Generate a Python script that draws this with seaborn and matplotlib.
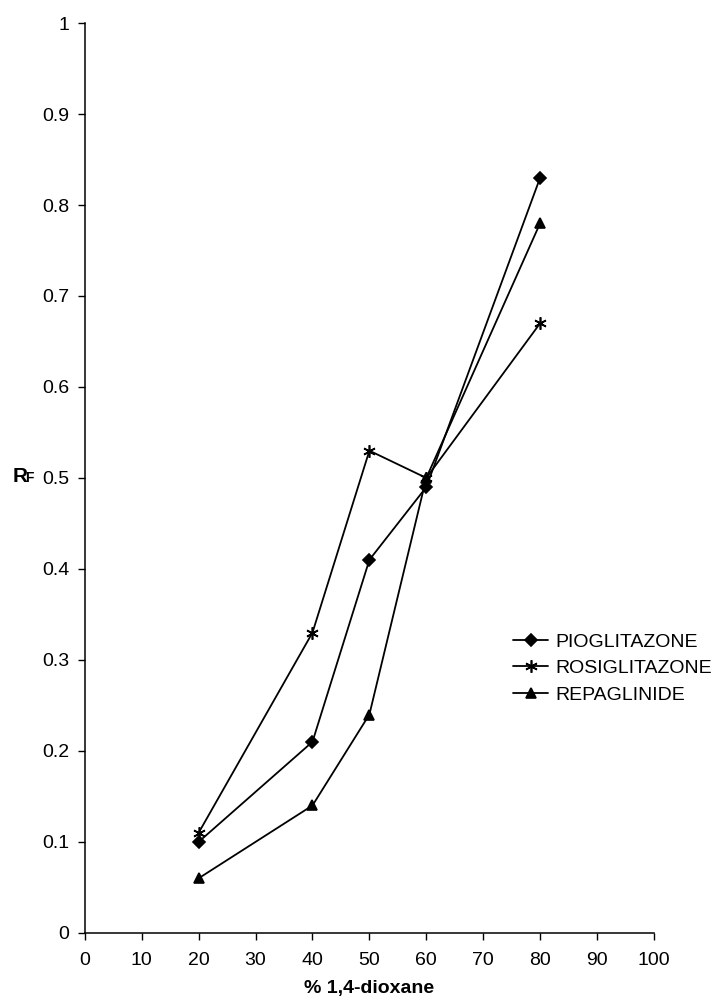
import pandas as pd
import matplotlib
matplotlib.use("Agg")
import matplotlib.pyplot as plt
import seaborn as sns

# % 1,4-dioxane in mobile phase
dioxane = [20, 40, 50, 60, 80]

# RF values
pioglitazone = [0.10, 0.21, 0.41, 0.49, 0.83]
rosiglitazone = [0.11, 0.33, 0.53, 0.50, 0.67]
repaglinide = [0.06, 0.14, 0.24, 0.50, 0.78]

names = ["PIOGLITAZONE", "ROSIGLITAZONE", "REPAGLINIDE"]
x_ticks = list(range(0, 101, 10))
y_ticks = [0, 0.1, 0.2, 0.3, 0.4, 0.5, 0.6, 0.7, 0.8, 0.9, 1]
y_labels = ["0", "0.1", "0.2", "0.3", "0.4", "0.5", "0.6", "0.7", "0.8", "0.9", "1"]

df = pd.concat([
    pd.DataFrame({"dioxane": dioxane, "rf": vals, "drug": name})
    for name, vals in zip(names, [pioglitazone, rosiglitazone, repaglinide])
])

sns.set_theme(style="ticks")
plt.rcParams["font.family"] = ["Liberation Sans", "DejaVu Sans"]
plt.rcParams["text.color"] = "black"
plt.rcParams["axes.labelcolor"] = "black"

fig = plt.figure(figsize=(7.25, 10.02), dpi=100)
ax = fig.add_axes([0.117, 0.069, 0.785, 0.908])

markers = {"PIOGLITAZONE": "D", "ROSIGLITAZONE": (6, 2, 0), "REPAGLINIDE": "^"}
sizes = {"PIOGLITAZONE": 6, "ROSIGLITAZONE": 9, "REPAGLINIDE": 7}

for name in names:
    sub = df[df["drug"] == name]
    sns.lineplot(data=sub, x="dioxane", y="rf", ax=ax, color="black",
                 linewidth=1.3, marker=markers[name], markersize=sizes[name],
                 markeredgewidth=1.2, markeredgecolor="black",
                 markerfacecolor="black", label=name)

ax.set_xlim(0, 100)
ax.set_ylim(0, 1)
ax.set_xticks(x_ticks)
ax.set_yticks(y_ticks)
ax.set_yticklabels(y_labels)
ax.tick_params(axis="both", labelsize=14, direction="out", length=5,
               width=1, color="black", labelcolor="black")
ax.tick_params(axis="x", pad=9)
ax.tick_params(axis="y", pad=6)
for side in ["left", "bottom"]:
    ax.spines[side].set_color("black")
    ax.spines[side].set_linewidth(1.1)
sns.despine(ax=ax)

ax.set_xlabel("% 1,4-dioxane", fontsize=14, fontweight="bold", labelpad=8)
ax.set_ylabel("")

# R with small F, set beside the 0.5 tick
fig.text(0.017, 0.519, "R", fontsize=15, fontweight="bold", va="baseline")
fig.text(0.035, 0.519, "F", fontsize=10, fontweight="bold", va="baseline")

leg = ax.legend(loc="center left", bbox_to_anchor=(0.708, 0.333),
                bbox_transform=fig.transFigure, frameon=False, fontsize=14,
                handlelength=1.8, handletextpad=0.35, labelspacing=0.45,
                borderpad=0, borderaxespad=0)

fig.savefig("out.png", dpi=100)
